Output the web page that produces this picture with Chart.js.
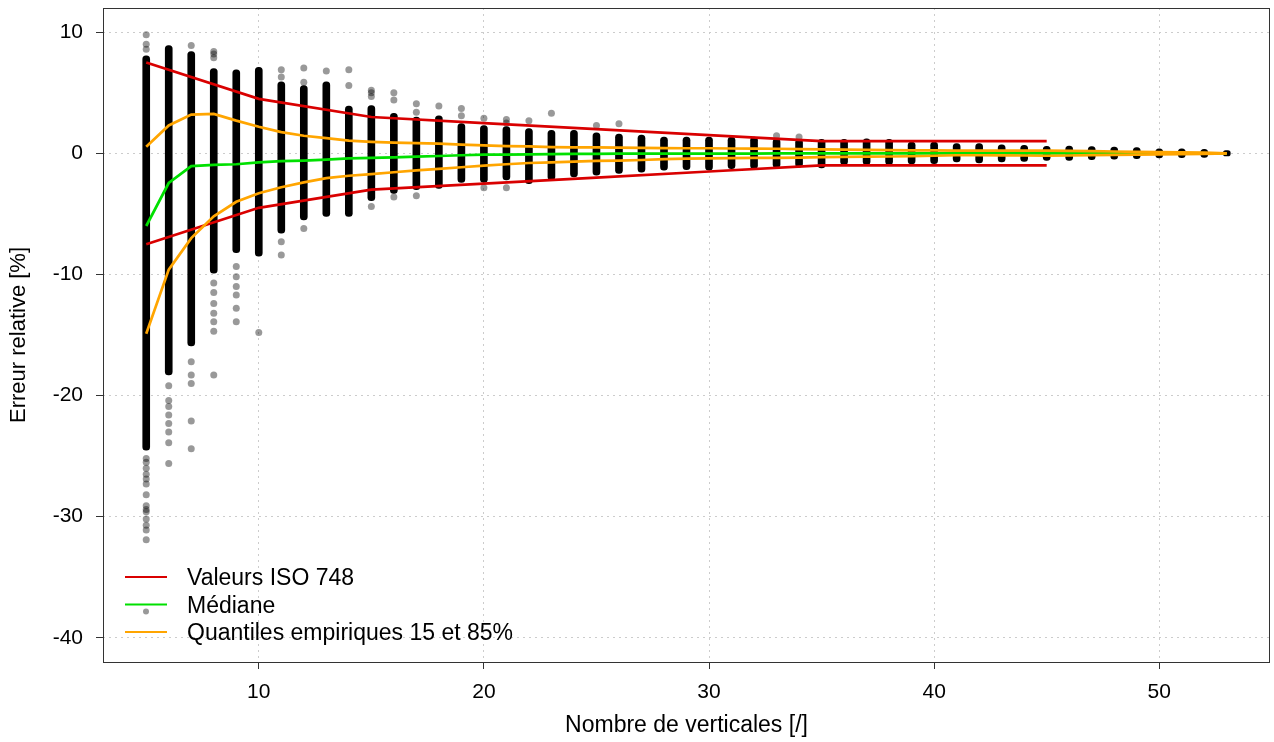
<!DOCTYPE html>
<html>
<head>
<meta charset="utf-8">
<script src="https://cdn.jsdelivr.net/npm/chart.js@4.4.1/dist/chart.umd.min.js"></script>
<style>
  html, body { margin: 0; padding: 0; background: #fff; }
  #wrap { width: 1274px; height: 742px; }
</style>
</head>
<body>
<div id="wrap"><canvas id="chart" width="1274" height="742"></canvas></div>
<script>
// number of verticals (x) and the extent of the dense cloud of points per column
const verticals = [5, 6, 7, 8, 9, 10, 11, 12, 13, 14, 15, 16, 17, 18, 19, 20, 21, 22, 23, 24, 25, 26, 27, 28, 29,
  30, 31, 32, 33, 34, 35, 36, 37, 38, 39, 40, 41, 42, 43, 44, 45, 46, 47, 48, 49, 50, 51, 52, 53];
const colTop = [8.06, 8.9, 8.4, 7.0, 6.9, 7.1, 5.9, 5.6, 5.9, 3.9, 3.95, 3.3, 3.0, 3.1, 2.45, 2.3, 2.2, 2.05, 1.9, 1.9,
  1.7, 1.6, 1.5, 1.35, 1.35, 1.34, 1.34, 1.34, 1.2, 1.15, 1.15, 1.15, 1.2, 1.15, 0.93, 0.93, 0.8, 0.8, 0.71, 0.66,
  0.58, 0.6, 0.55, 0.52, 0.47, 0.38, 0.38, 0.33, 0.22];
const colBottom = [-24.5, -18.3, -15.9, -9.9, -8.2, -8.5, -6.6, -5.5, -5.2, -5.2, -3.9, -3.3, -3.0, -2.9, -2.4, -2.4,
  -2.2, -2.5, -2.2, -1.95, -1.8, -1.65, -1.55, -1.4, -1.35, -1.4, -1.26, -1.26, -1.18, -1.15, -1.2, -0.93, -0.93,
  -0.93, -0.88, -0.85, -0.7, -0.8, -0.71, -0.66, -0.58, -0.58, -0.52, -0.49, -0.44, -0.38, -0.36, -0.33, -0.22];

// isolated points outside the dense cloud
const outlierX = [5, 5, 5, 5, 5, 5, 5, 5, 5, 5, 5, 5, 5, 5, 5, 5, 5,
  6, 6, 6, 6, 6, 6, 6, 6,
  7, 7, 7, 7, 7, 7,
  8, 8, 8, 8, 8, 8, 8, 8, 8, 8,
  9, 9, 9, 9, 9, 9,
  10, 11, 11, 11, 11, 12, 12, 12, 13, 14, 14,
  15, 15, 15, 15, 16, 16, 16, 17, 17, 17, 18, 19, 19, 20, 20, 21, 21, 21, 22, 23, 25, 26, 33, 34];
const outlierY = [9.8, 9.0, 8.6, -25.2, -25.5, -26.0, -26.5, -26.9, -27.3, -28.2, -29.1, -29.4, -29.6, -30.2, -30.7, -31.1, -31.9,
  -19.2, -20.4, -20.9, -21.6, -22.3, -23.0, -23.9, -25.6,
  8.9, -17.2, -18.3, -19.0, -22.1, -24.4,
  8.4, 8.2, 7.9, -10.7, -11.5, -12.4, -13.2, -13.9, -14.7, -18.3,
  -9.35, -10.2, -11.0, -11.7, -12.8, -13.9,
  -14.8, 6.9, 6.3, -7.3, -8.4, 7.05, 5.86, -6.2, 6.8, 6.9, 5.6,
  5.2, 5.0, 4.7, -4.4, 5.0, 4.4, -3.6, 4.1, 3.4, -3.5, 3.9, 3.7, 3.1, 2.9, -2.85, 2.8, 2.5, -2.85, 2.7, 3.3, 2.3, 2.45, 1.45, 1.35];

// ISO 748 uncertainty values
const isoX = [5, 10, 15, 20, 25, 30, 35, 40, 45];
const isoValues = [7.5, 4.5, 3.0, 2.5, 2.0, 1.5, 1.0, 1.0, 1.0];

// median and empirical 15% / 85% quantiles, one value per number of verticals
const medianValues = [-6.0, -2.45, -1.05, -0.95, -0.9, -0.75, -0.65, -0.6, -0.52, -0.42, -0.38, -0.33, -0.28, -0.22,
  -0.16, -0.11, -0.1, -0.08, -0.06, -0.05, -0.04, -0.03, -0.03, -0.02, -0.02, -0.02, -0.02, -0.02, -0.01, -0.01,
  -0.01, -0.01, -0.01, -0.01, -0.01, 0, 0, 0, 0, 0, 0, 0, 0, 0, 0, 0, 0, 0, 0];
const q85Values = [0.55, 2.3, 3.2, 3.25, 2.7, 2.2, 1.75, 1.45, 1.25, 1.05, 0.95, 0.88, 0.84, 0.8, 0.72, 0.65, 0.6,
  0.58, 0.52, 0.5, 0.5, 0.47, 0.45, 0.43, 0.42, 0.42, 0.4, 0.39, 0.38, 0.35, 0.33, 0.3, 0.28, 0.26, 0.25, 0.24,
  0.23, 0.22, 0.22, 0.22, 0.22, 0.2, 0.18, 0.15, 0.12, 0.1, 0.08, 0.06, 0];
const q15Values = [-14.9, -9.6, -7.0, -5.2, -4.0, -3.3, -2.8, -2.4, -2.05, -1.85, -1.72, -1.56, -1.4, -1.29, -1.15,
  -1.02, -0.9, -0.8, -0.74, -0.68, -0.62, -0.6, -0.55, -0.48, -0.43, -0.42, -0.4, -0.38, -0.37, -0.35, -0.32, -0.3,
  -0.28, -0.26, -0.24, -0.2, -0.16, -0.16, -0.17, -0.18, -0.2, -0.18, -0.15, -0.12, -0.1, -0.08, -0.06, -0.04, 0];

const xTicks = [10, 20, 30, 40, 50];
const yTicks = [-40, -30, -20, -10, 0, 10];
const legendLabels = ['Valeurs ISO 748', 'Médiane', 'Quantiles empiriques 15 et 85%'];

const RED = '#d90000';
const GREEN = '#00e000';
const ORANGE = '#ffa500';
const FONT = "'Liberation Sans', Arial, sans-serif";

const pairs = (xs, ys) => xs.map((x, i) => ({ x: x, y: ys[i] }));

// full box round the plot + legend in the lower left corner
const boxAndLegend = {
  id: 'boxAndLegend',
  afterDraw(chart) {
    const { ctx, chartArea } = chart;
    ctx.save();
    ctx.strokeStyle = '#333';
    ctx.lineWidth = 1;
    ctx.strokeRect(chartArea.left + 0.5, chartArea.top + 0.5,
      chartArea.right - chartArea.left - 1, chartArea.bottom - chartArea.top);

    const colors = [RED, GREEN, ORANGE];
    const x0 = chartArea.left + 22;
    let y = chartArea.bottom - 85;
    ctx.font = '23px ' + FONT;
    ctx.textBaseline = 'middle';
    ctx.fillStyle = '#000';
    legendLabels.forEach((label, i) => {
      ctx.strokeStyle = colors[i];
      ctx.lineWidth = 2;
      ctx.beginPath();
      ctx.moveTo(x0, y);
      ctx.lineTo(x0 + 42, y);
      ctx.stroke();
      if (i === 1) {
        ctx.fillStyle = 'rgba(0,0,0,0.4)';
        ctx.beginPath();
        ctx.arc(x0 + 21, y + 7, 3, 0, Math.PI * 2);
        ctx.fill();
        ctx.fillStyle = '#000';
      }
      ctx.fillText(label, x0 + 62, y + 2);
      y += 27.5;
    });
    ctx.restore();
  }
};

const gridOpts = {
  offset: false,
  color: '#cccccc', lineWidth: 1,
  drawTicks: true, tickLength: 7, tickColor: '#333', tickBorderDash: [], tickWidth: 1
};

const ctx = document.getElementById('chart');
new Chart(ctx, {
  type: 'bar',
  data: {
    datasets: [
      {
        type: 'scatter',
        label: 'points',
        data: pairs(outlierX, outlierY),
        backgroundColor: 'rgba(0,0,0,0.4)',
        borderWidth: 0,
        pointRadius: 3.5,
        order: 10
      },
      {
        type: 'bar',
        label: 'nuage',
        data: verticals.map((x, i) => ({ x: x, y: [colBottom[i], colTop[i]] })),
        backgroundColor: '#000',
        barThickness: 7,
        borderRadius: 3.5,
        borderSkipped: false,
        order: 9
      },
      {
        type: 'line',
        label: legendLabels[0],
        data: pairs(isoX, isoValues),
        borderColor: RED, borderWidth: 2.7, pointRadius: 0, tension: 0, order: 3
      },
      {
        type: 'line',
        label: legendLabels[0] + ' (inf.)',
        data: pairs(isoX, isoValues.map(v => -v)),
        borderColor: RED, borderWidth: 2.7, pointRadius: 0, tension: 0, order: 3
      },
      {
        type: 'line',
        label: legendLabels[1],
        data: pairs(verticals, medianValues),
        borderColor: GREEN, borderWidth: 2.7, pointRadius: 0, tension: 0, order: 2
      },
      {
        type: 'line',
        label: legendLabels[2],
        data: pairs(verticals, q85Values),
        borderColor: ORANGE, borderWidth: 2.7, pointRadius: 0, tension: 0, order: 1
      },
      {
        type: 'line',
        label: legendLabels[2] + ' (15%)',
        data: pairs(verticals, q15Values),
        borderColor: ORANGE, borderWidth: 2.7, pointRadius: 0, tension: 0, order: 1
      }
    ]
  },
  options: {
    responsive: false,
    animation: false,
    layout: { padding: { top: 8, right: 4, left: 0, bottom: 0 } },
    plugins: { legend: { display: false }, tooltip: { enabled: false } },
    scales: {
      x: {
        type: 'linear',
        min: 3.08,
        max: 54.92,
        offset: false,
        afterFit: s => { s.height = 80; s.paddingLeft = 0; s.paddingRight = 0; },
        afterBuildTicks: s => { s.ticks = xTicks.map(v => ({ value: v })); },
        grid: gridOpts,
        border: { display: false, dash: [2, 4] },
        ticks: { color: '#000', font: { family: FONT, size: 21 }, padding: 11, maxRotation: 0 },
        title: {
          display: true, text: 'Nombre de verticales [/]', color: '#000',
          font: { family: FONT, size: 23 }, padding: { top: 0, bottom: 3 }
        }
      },
      y: {
        type: 'linear',
        min: -42,
        max: 12,
        afterFit: s => { s.width = 103; s.paddingTop = 0; s.paddingBottom = 0; },
        afterBuildTicks: s => { s.ticks = yTicks.map(v => ({ value: v })); },
        grid: gridOpts,
        border: { display: false, dash: [2, 4] },
        ticks: { color: '#000', font: { family: FONT, size: 21 }, padding: 13 },
        title: {
          display: true, text: 'Erreur relative [%]', color: '#000',
          font: { family: FONT, size: 22 }, padding: { top: 6, bottom: 0 }
        }
      }
    }
  },
  plugins: [boxAndLegend]
});
</script>
</body>
</html>
